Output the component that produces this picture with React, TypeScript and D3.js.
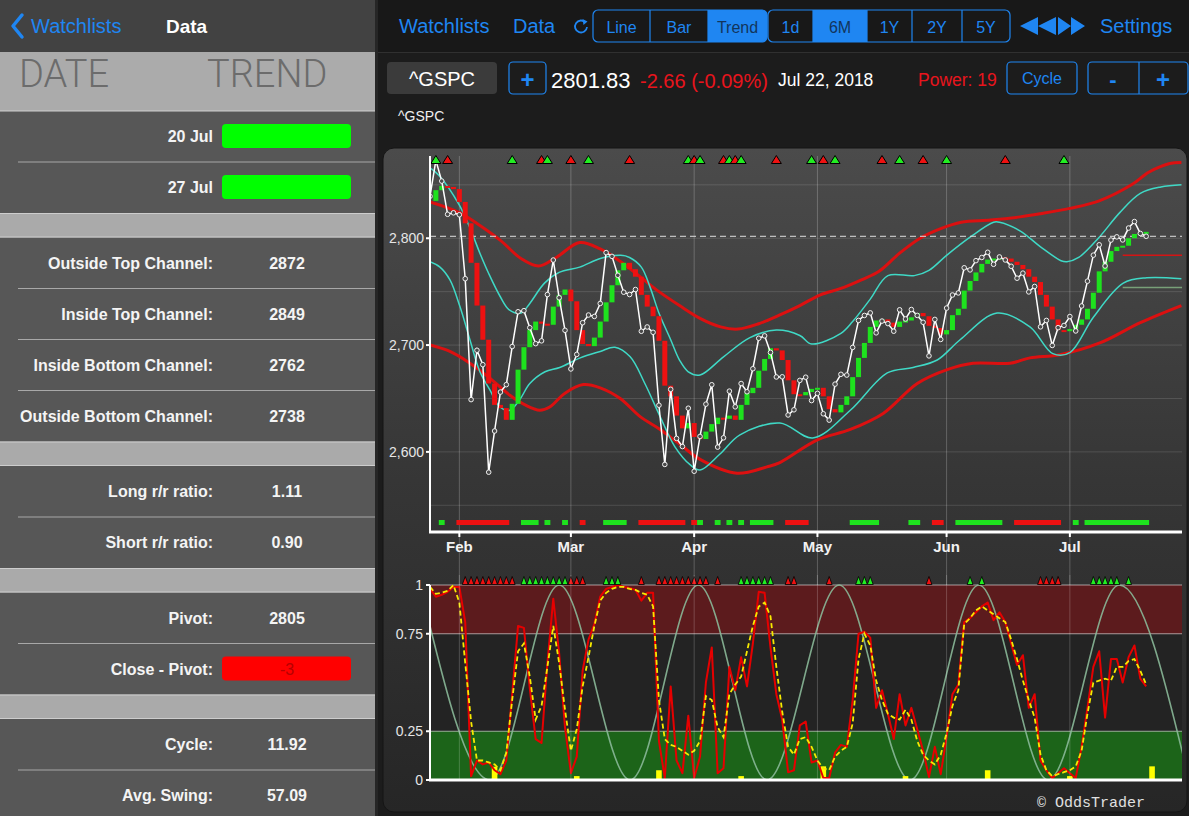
import * as d3 from "d3";

const WIDTH = 1189;
const HEIGHT = 816;
const FONT = "'Liberation Sans', Arial, Helvetica, sans-serif";
const BLUE = "#1f86f2";
const RED = "#e8141c";
const GREEN = "#1ee21e";

// ^GSPC daily closes, 25 Jan – 20 Jul 2018 (one per trading day)
const CLOSES = [
  2839.25, 2872.87, 2853.53, 2822.43, 2823.81, 2821.98, 2762.13, 2648.94, 2695.14, 2681.66,
  2581.0, 2619.55, 2656.0, 2662.94, 2698.63, 2731.2, 2732.22, 2716.26, 2701.33, 2703.96,
  2747.3, 2779.6, 2744.28, 2713.83, 2677.67, 2691.25, 2720.94, 2728.12, 2726.8, 2738.97,
  2786.57, 2783.02, 2765.31, 2749.48, 2747.33, 2752.01, 2712.92, 2716.94, 2711.93, 2643.69,
  2588.26, 2658.55, 2612.62, 2605.0, 2640.87, 2581.88, 2614.45, 2644.69, 2662.84, 2604.47,
  2613.16, 2656.87, 2642.19, 2663.99, 2656.3, 2677.84, 2706.39, 2708.64, 2693.13, 2670.14,
  2670.29, 2634.56, 2639.4, 2666.94, 2669.91, 2648.05, 2654.8, 2635.67, 2629.73, 2663.42,
  2672.63, 2671.92, 2697.79, 2723.07, 2727.72, 2730.13, 2711.45, 2722.46, 2720.13, 2712.97,
  2733.01, 2724.44, 2733.29, 2727.76, 2721.33, 2689.86, 2724.01, 2705.27, 2734.62, 2746.87,
  2748.8, 2772.35, 2770.37, 2779.03, 2782.0, 2786.85, 2775.63, 2782.49, 2779.66, 2773.75,
  2762.59, 2767.32, 2749.76, 2754.88, 2717.07, 2723.06, 2699.63, 2716.31, 2718.37, 2726.71,
  2713.22, 2736.61, 2759.82, 2784.17, 2793.84, 2774.02, 2798.29, 2801.31, 2798.43, 2809.55,
  2815.62, 2804.49, 2801.83,
];

const TREND = [
  2835, 2845, 2849, 2848, 2846, 2834, 2814, 2777, 2737, 2705,
  2664, 2644, 2641, 2630, 2645, 2677, 2698, 2714, 2722, 2720,
  2719, 2736, 2747, 2752, 2741, 2714, 2701, 2699, 2707, 2722,
  2740, 2756, 2770, 2777, 2771, 2764, 2747, 2736, 2727, 2704,
  2662, 2652, 2634, 2622, 2627, 2614, 2612, 2619, 2626, 2632,
  2631, 2634, 2630, 2644, 2655, 2660, 2676, 2687, 2697, 2695,
  2686, 2667, 2654, 2653, 2656, 2659, 2660, 2652, 2640, 2637,
  2644, 2652, 2670, 2688, 2702, 2717, 2723, 2724, 2721, 2717,
  2722, 2723, 2726, 2730, 2727, 2718, 2716, 2710, 2714, 2728,
  2734, 2751, 2760, 2768, 2776, 2780, 2781, 2782, 2781, 2778,
  2775, 2771, 2764, 2759, 2747, 2736, 2724, 2714, 2713, 2715,
  2719, 2724, 2734, 2749, 2769, 2778, 2788, 2792, 2793, 2800,
  2804, 2805, 2806,
];

const MONTH_LABELS = ["Feb", "Mar", "Apr", "May", "Jun", "Jul"];
const MONTH_START = [5, 24, 45, 66, 88, 109];
const PRICE_TICKS = [2600, 2700, 2800];
const PRICE_GRID = [2550, 2600, 2650, 2700, 2750, 2800, 2850];

// channel curves as [day index, level]
const OUTER_TOP: [number, number][] = [
  [0, 2834], [5, 2824], [8.5, 2812], [12, 2798], [15.5, 2781], [18.5, 2774], [21.5, 2782], [25.5, 2796],
  [29, 2790], [32.5, 2778], [36, 2763], [39, 2750], [42.5, 2737], [46, 2725], [49.5, 2717], [52.5, 2715],
  [56, 2720], [59.5, 2728], [63, 2737], [66.5, 2747], [70, 2753], [73.5, 2761], [76.5, 2769], [80, 2786],
  [83.5, 2800], [87, 2809], [90.5, 2815], [95.5, 2817], [100.5, 2820], [104, 2823], [109, 2828], [114, 2835],
  [119.5, 2850], [122.5, 2862], [126, 2870], [128, 2871],
];
const INNER_TOP: [number, number][] = [
  [0, 2866], [1.5, 2859], [5, 2831], [7, 2807], [8.5, 2786], [10, 2767], [12, 2745], [13.5, 2733],
  [15.5, 2730], [17, 2739], [19.5, 2758], [22, 2768], [25.5, 2773], [29, 2781], [32.5, 2784], [34, 2782],
  [36, 2773], [37.5, 2754], [39, 2730], [41, 2705], [42.5, 2686], [44, 2675], [46, 2672], [50, 2689],
  [54.5, 2707], [59, 2714], [63, 2709], [65, 2701], [70, 2711], [72, 2722], [75, 2743], [78, 2765],
  [82.5, 2765], [85, 2770], [88, 2784], [92, 2801], [96, 2815], [97, 2815], [100.5, 2807], [104, 2792],
  [107.5, 2779], [108.5, 2778], [110.5, 2782], [114, 2801], [117.5, 2824], [121, 2842], [124.5, 2848], [128, 2850],
];
const INNER_BOTTOM: [number, number][] = [
  [0, 2778], [1.7, 2773], [3.4, 2761], [5.1, 2736], [6.8, 2705], [8.5, 2675], [10.2, 2658], [11.9, 2642],
  [13.6, 2639], [15.3, 2649], [17, 2664], [19.6, 2675], [22.1, 2679], [25.6, 2688], [29, 2694], [31.5, 2698],
  [34.1, 2689], [36.6, 2664], [39.2, 2633], [41.7, 2605], [44.3, 2588], [46, 2583], [49.4, 2598], [52.8, 2616],
  [59.6, 2627], [65.2, 2613], [71.6, 2639], [77.9, 2674], [82.3, 2679], [86.4, 2686], [90.3, 2705], [96.6, 2730],
  [102.2, 2717], [106.1, 2692], [109, 2693], [113, 2726], [118.1, 2758], [122.1, 2763], [128, 2762],
];
const OUTER_BOTTOM: [number, number][] = [
  [0, 2700], [3.4, 2694], [6.8, 2683], [10.2, 2669], [13.6, 2653], [16.2, 2644], [18.7, 2639], [20.4, 2642],
  [23, 2655], [26.1, 2663], [29, 2660], [32.4, 2650], [35.8, 2633], [39.2, 2621], [42.6, 2607], [46, 2593],
  [52.3, 2580], [57.4, 2586], [59.6, 2590], [65.9, 2611], [71.6, 2621], [77.2, 2636], [83, 2664], [88.1, 2677],
  [92.5, 2683], [98.8, 2683], [102.2, 2688], [107.3, 2691], [114.1, 2702], [121, 2721], [128, 2737],
];

// triangles along the top of the price pane
const PRICE_SIGNALS: [number, string][] = [
  [1, "g"], [3, "r"], [14, "g"], [19, "r"], [20, "g"], [24, "r"], [27, "g"], [34, "r"], [44, "g"], [45, "r"],
  [46, "g"], [50, "r"], [51, "g"], [52, "r"], [53, "g"], [59, "r"], [65, "g"], [67, "r"], [69, "g"], [77, "r"],
  [80, "g"], [84, "r"], [88, "g"], [98, "r"], [108, "g"],
];

// state strip along the bottom of the price pane: [from, to, colour]
const STATE_RUNS: [number, number, string][] = [
  [2, 2, "g"], [5, 13, "r"], [16, 18, "g"], [20, 20, "g"], [23, 23, "g"], [26, 26, "r"], [30, 33, "g"],
  [36, 43, "r"], [45, 45, "r"], [46, 46, "g"], [49, 49, "g"], [51, 51, "g"], [53, 53, "g"], [55, 58, "g"],
  [61, 64, "r"], [72, 76, "g"], [82, 83, "g"], [86, 87, "r"], [90, 97, "g"], [100, 107, "r"], [110, 110, "g"],
  [112, 122, "g"],
];

const TARGET_START = 118;
const TARGET_LEVELS: [number, string][] = [[2784, "#d41414"], [2754, "#78a078"]];

// oscillator
const STOCH_RAW = [
  0.98, 0.94, 0.95, 0.965, 0.99, 0.99, 0.81, 0.02, 0.1, 0.08,
  0.09, 0.05, 0.03, 0.1, 0.44, 0.79, 0.78, 0.47, 0.21, 0.19,
  0.6, 0.93, 0.65, 0.27, 0.035, 0.12, 0.56, 0.72, 0.8, 0.94,
  0.98, 0.99, 1.0, 0.99, 0.985, 0.975, 0.92, 0.96, 0.96, 0.2,
  0.01, 0.48, 0.1, 0.035, 0.33, 0.01, 0.12, 0.5, 0.68, 0.035,
  0.06, 0.58, 0.46, 0.63, 0.48, 0.7, 0.965, 0.96, 0.68, 0.44,
  0.31, 0.04, 0.05, 0.28, 0.3, 0.09, 0.1, 0.01, 0.01, 0.14,
  0.18, 0.17, 0.41, 0.75, 0.76, 0.73, 0.37, 0.46, 0.34, 0.21,
  0.44, 0.28, 0.37, 0.26, 0.15, 0.015, 0.17, 0.03, 0.22, 0.44,
  0.49, 0.81, 0.83, 0.86, 0.89, 0.91, 0.82, 0.86, 0.81, 0.7,
  0.59, 0.64, 0.37, 0.44, 0.1, 0.05, 0.01, 0.035, 0.06, 0.035,
  0.01, 0.17, 0.37, 0.58, 0.66, 0.32, 0.62, 0.62, 0.5, 0.63,
  0.69, 0.52, 0.48,
];
const STOCH_SMOOTH = [
  0.99, 0.955, 0.96, 0.97, 1.0, 0.91, 0.6, 0.3, 0.1, 0.1,
  0.09, 0.08, 0.05, 0.14, 0.41, 0.66, 0.7, 0.53, 0.31, 0.38,
  0.58, 0.79, 0.6, 0.36, 0.15, 0.26, 0.48, 0.63, 0.79, 0.92,
  0.96, 0.98, 0.99, 0.99, 0.98, 0.975, 0.96, 0.95, 0.89, 0.41,
  0.21, 0.18, 0.17, 0.15, 0.13, 0.15, 0.2, 0.43, 0.41, 0.27,
  0.22, 0.44, 0.49, 0.53, 0.66, 0.79, 0.89, 0.91, 0.84, 0.58,
  0.35, 0.17, 0.13, 0.21, 0.22, 0.17, 0.1, 0.06, 0.05, 0.12,
  0.15, 0.17, 0.29, 0.62, 0.75, 0.69, 0.51, 0.41, 0.34, 0.32,
  0.31, 0.36, 0.31, 0.2, 0.13, 0.1, 0.08, 0.13, 0.24, 0.38,
  0.46, 0.8, 0.83, 0.87, 0.89, 0.87, 0.85, 0.83, 0.81, 0.72,
  0.62, 0.51, 0.41, 0.32, 0.13, 0.05, 0.02, 0.03, 0.04, 0.05,
  0.07, 0.15, 0.34, 0.5, 0.51, 0.52, 0.51, 0.58, 0.58, 0.61,
  0.62, 0.56, 0.49,
];
// peaks and troughs of the dominant cycle wave
const CYCLE_EXTREMA: [number, number][] = [
  [-1.7, 1], [10.2, 0], [22, 1], [34.1, 0], [45.7, 1], [57.4, 0], [69.7, 1], [81.8, 0], [93.5, 1], [105.3, 0],
  [117.4, 1], [129.3, 0],
];
const OSC_BARS: [number, number][] = [
  [11, 0.068], [25, 0.02], [39, 0.05], [53, 0.02], [67, 0.07], [81, 0.02], [95, 0.05], [109, 0.02], [123, 0.07],
];
const OSC_SIGNAL_RUNS: [number, number, string][] = [
  [6, 14, "r"], [16, 23, "g"], [24, 26, "r"], [30, 32, "g"], [36, 36, "r"], [39, 47, "r"], [49, 49, "r"],
  [53, 58, "g"], [61, 62, "r"], [68, 68, "r"], [73, 75, "g"], [85, 85, "r"], [92, 92, "g"], [94, 94, "g"],
  [104, 107, "r"], [113, 117, "g"], [119, 119, "g"],
];
const OSC_TICKS = [0, 0.25, 0.75, 1];

// left table
const TREND_ROWS = [
  { date: "20 Jul", up: true },
  { date: "27 Jul", up: true },
];
const STAT_GROUPS: [string, string][][] = [
  [["Outside Top Channel:", "2872"], ["Inside Top Channel:", "2849"], ["Inside Bottom Channel:", "2762"], ["Outside Bottom Channel:", "2738"]],
  [["Long r/r ratio:", "1.11"], ["Short r/r ratio:", "0.90"]],
  [["Pivot:", "2805"], ["Close - Pivot:", "-3"]],
  [["Cycle:", "11.92"], ["Avg. Swing:", "57.09"]],
];

const x = d3.scaleLinear().domain([0, 128]).range([430, 1181.4]);
const py = d3.scaleLinear().domain([2525, 2877]).range([532, 156]);
const oy = d3.scaleLinear().domain([0, 1]).range([780, 585]);
const STEP = x(1) - x(0);

function triangle(cx: number, cy: number, w: number, h: number) {
  return `M${cx - w / 2},${cy + h / 2}L${cx},${cy - h / 2}L${cx + w / 2},${cy + h / 2}Z`;
}

const ROW_H = 51;
const BAND_H = 24.5;

function LeftPanel() {
  let top = 111 + TREND_ROWS.length * ROW_H;
  const groups = STAT_GROUPS.map((rows) => {
    const bandTop = top;
    const start = top + BAND_H;
    top = start + rows.length * ROW_H;
    return { rows, bandTop, start };
  });
  return (
    <g>
      <rect x="0" y="0" width="375" height={HEIGHT} fill="#575757" />
      <rect x="0" y="0" width="375" height="52" fill="#424242" />
      <path d="M22,15 L13,26 L22,37" fill="none" stroke={BLUE} strokeWidth="3.5" strokeLinecap="round" strokeLinejoin="round" />
      <text x="31" y="33" fill={BLUE} fontSize="20">Watchlists</text>
      <text x="166" y="33" fill="#fff" fontSize="19" fontWeight="700">Data</text>
      <rect x="0" y="52" width="375" height="59" fill="#ababab" />
      <text x="19" y="87" fill="#6c6c6c" fontSize="38" fontFamily="Roboto, sans-serif" fontWeight="300">DATE</text>
      <text x="207" y="87" fill="#6c6c6c" fontSize="38" fontFamily="Roboto, sans-serif" fontWeight="300">TREND</text>
      <line x1="0" x2="375" y1="111" y2="111" stroke="#cfcfcf" />
      {TREND_ROWS.map((row, i) => {
        const rowTop = 111 + i * ROW_H;
        return (
          <g key={row.date}>
            {i > 0 && <line x1="18" x2="375" y1={rowTop} y2={rowTop} stroke="#a8a8a8" />}
            <text x="213" y={rowTop + 25.5} fill="#f4f4f4" fontSize="16" fontWeight="700" textAnchor="end" dominantBaseline="central">
              {row.date}
            </text>
            <rect x="222" y={rowTop + 13} width="129" height="24" rx="4" fill={row.up ? "#00ff00" : "#ff0000"} />
          </g>
        );
      })}
      {groups.map((group, gi) => (
        <g key={gi}>
          <rect x="0" y={group.bandTop} width="375" height={BAND_H} fill="#aaaaaa" />
          <line x1="0" x2="375" y1={group.bandTop + 0.5} y2={group.bandTop + 0.5} stroke="#cdcdcd" />
          <line x1="0" x2="375" y1={group.start - 0.5} y2={group.start - 0.5} stroke="#cdcdcd" />
          {group.rows.map(([label, value], ri) => {
            const rowTop = group.start + ri * ROW_H;
            const boxed = label.startsWith("Close");
            return (
              <g key={label}>
                {ri > 0 && <line x1="18" x2="375" y1={rowTop} y2={rowTop} stroke="#a8a8a8" />}
                <text x="213" y={rowTop + 25.5} fill="#f4f4f4" fontSize="16" fontWeight="700" textAnchor="end" dominantBaseline="central">
                  {label}
                </text>
                {boxed && <rect x="222" y={rowTop + 13} width="129" height="24" rx="4" fill="#ff0000" />}
                <text
                  x="287"
                  y={rowTop + 25.5}
                  fill={boxed ? "#b80000" : "#f4f4f4"}
                  fontSize="16"
                  fontWeight={boxed ? "400" : "700"}
                  textAnchor="middle"
                  dominantBaseline="central"
                >
                  {value}
                </text>
              </g>
            );
          })}
        </g>
      ))}
      <rect x="375" y="0" width="3" height={HEIGHT} fill="#262626" />
    </g>
  );
}

function Segmented({ id, left, widths, labels, selected }: { id: string; left: number; widths: number[]; labels: string[]; selected: number }) {
  const ends = Array.from(d3.cumsum(widths));
  const total = ends[ends.length - 1];
  return (
    <g>
      <clipPath id={id}>
        <rect x={left} y="10" width={total} height="32" rx="5" />
      </clipPath>
      {labels.map((label, i) => {
        const x0 = left + (i ? ends[i - 1] : 0);
        const w = widths[i];
        return (
          <g key={label}>
            {i === selected && <rect x={x0} y="10" width={w} height="32" fill={BLUE} clipPath={`url(#${id})`} />}
            {i > 0 && <line x1={x0} x2={x0} y1="10" y2="42" stroke={BLUE} strokeWidth="1.2" />}
            <text x={x0 + w / 2} y="27" fill={i === selected ? "#12355c" : BLUE} fontSize="16" textAnchor="middle" dominantBaseline="central">
              {label}
            </text>
          </g>
        );
      })}
      <rect x={left} y="10" width={total} height="32" rx="5" fill="none" stroke={BLUE} strokeWidth="1.2" />
    </g>
  );
}

function Toolbar() {
  return (
    <g>
      <rect x="378" y="0" width={WIDTH - 378} height="52" fill="#181818" />
      <line x1="378" x2={WIDTH} y1="52.5" y2="52.5" stroke="#303030" />
      <text x="399" y="33" fill={BLUE} fontSize="20">Watchlists</text>
      <text x="513" y="33" fill={BLUE} fontSize="20">Data</text>
      <path d="M585.5,22.5 A6,6 0 1 0 587,27" fill="none" stroke={BLUE} strokeWidth="1.8" />
      <path d="M582.5,19 L587.5,21.5 L583.5,25 Z" fill={BLUE} />
      <Segmented id="seg-type" left={593} widths={[57, 58, 59]} labels={["Line", "Bar", "Trend"]} selected={2} />
      <Segmented id="seg-range" left={768} widths={[45, 54, 45, 50, 48]} labels={["1d", "6M", "1Y", "2Y", "5Y"]} selected={1} />
      <path d="M1020,26 L1038,17 L1038,35 Z M1038,26 L1056,17 L1056,35 Z" fill={BLUE} />
      <path d="M1058,17 L1071,26 L1058,35 Z M1071,17 L1085,26 L1071,35 Z" fill={BLUE} />
      <text x="1100" y="33" fill={BLUE} fontSize="20">Settings</text>

      <rect x="387" y="62" width="110" height="32" rx="4" fill="#3b3b3b" />
      <text x="442" y="79" fill="#fff" fontSize="20" textAnchor="middle" dominantBaseline="central">^GSPC</text>
      <rect x="509" y="62" width="37" height="32" rx="4" fill="none" stroke={BLUE} strokeWidth="1.2" />
      <text x="527.5" y="79" fill={BLUE} fontSize="24" fontWeight="700" textAnchor="middle" dominantBaseline="central">+</text>
      <text x="551" y="88" fill="#fff" fontSize="22">{CLOSES[CLOSES.length - 1].toFixed(2)}</text>
      <text x="640" y="88" fill={RED} fontSize="20">-2.66 (-0.09%)</text>
      <text x="778" y="86" fill="#fff" fontSize="17.5">Jul 22, 2018</text>
      <text x="918" y="86" fill={RED} fontSize="17.5">Power: 19</text>
      <rect x="1007" y="62" width="70" height="32" rx="4" fill="none" stroke={BLUE} strokeWidth="1.2" />
      <text x="1042" y="78" fill={BLUE} fontSize="16" textAnchor="middle" dominantBaseline="central">Cycle</text>
      <rect x="1088" y="62" width="100" height="32" rx="4" fill="none" stroke={BLUE} strokeWidth="1.2" />
      <line x1="1139" x2="1139" y1="62" y2="94" stroke={BLUE} strokeWidth="1.2" />
      <text x="1113" y="79" fill={BLUE} fontSize="22" fontWeight="700" textAnchor="middle" dominantBaseline="central">-</text>
      <text x="1163" y="79" fill={BLUE} fontSize="24" fontWeight="700" textAnchor="middle" dominantBaseline="central">+</text>
      <text x="398" y="121" fill="#f0f0f0" fontSize="14">^GSPC</text>
    </g>
  );
}

function PriceChart() {
  const curve = d3.line<[number, number]>().x((d) => x(d[0])).y((d) => py(d[1])).curve(d3.curveCatmullRom.alpha(0.5));
  const closeLine = d3.line<number>().x((_, i) => x(i)).y((d) => py(d));
  const last = CLOSES[CLOSES.length - 1];
  return (
    <g>
      <clipPath id="price-clip">
        <rect x="430" y="150" width="752" height="382" />
      </clipPath>
      {PRICE_GRID.map((v) => (
        <line key={v} x1="430" x2="1182" y1={py(v)} y2={py(v)} stroke="#ffffff" strokeOpacity="0.13" />
      ))}
      <g clipPath="url(#price-clip)">
        {[OUTER_TOP, OUTER_BOTTOM].map((c, i) => (
          <path key={`o${i}`} d={curve(c) ?? undefined} fill="none" stroke="#dc1010" strokeWidth="3" />
        ))}
        {[INNER_TOP, INNER_BOTTOM].map((c, i) => (
          <path key={`i${i}`} d={curve(c) ?? undefined} fill="none" stroke="#3fd9c6" strokeWidth="1.5" />
        ))}
        <line x1="430" x2="1182" y1={py(last)} y2={py(last)} stroke="#e0e0e0" strokeWidth="1" strokeDasharray="6 4" />
        {TARGET_LEVELS.map(([v, c]) => (
          <line key={v} x1={x(TARGET_START)} x2="1182" y1={py(v)} y2={py(v)} stroke={c} strokeWidth="1.5" />
        ))}
        {TREND.slice(1).map((v, k) => {
          const prev = TREND[k];
          const y0 = Math.min(py(v), py(prev));
          const h = Math.max(2, Math.abs(py(v) - py(prev)));
          return <rect key={k} x={x(k + 1) - 2.5} y={y0} width="5" height={h} fill={v >= prev ? GREEN : "#ee1111"} />;
        })}
        <path d={closeLine(CLOSES) ?? undefined} fill="none" stroke="#ffffff" strokeWidth="1.5" />
        {CLOSES.map((v, i) => (
          <circle key={i} cx={x(i)} cy={py(v)} r="2.3" fill="#4a4a4a" stroke="#f0f0f0" strokeWidth="1" />
        ))}
      </g>
      {PRICE_SIGNALS.map(([i, c]) => (
        <path key={i} d={triangle(x(i), 159.5, 10, 8)} fill={c === "g" ? "#22ee22" : "#ee1111"} stroke="#000" strokeWidth="1" />
      ))}
      {STATE_RUNS.map(([a, b, c]) => (
        <rect key={a} x={x(a - 0.5)} y="520" width={x(b + 0.5) - x(a - 0.5)} height="5" fill={c === "g" ? GREEN : "#ee1111"} />
      ))}
      <line x1="430" x2="430" y1="156" y2="533" stroke="#fff" strokeWidth="2" />
      <line x1="429" x2="1182" y1="532" y2="532" stroke="#fff" strokeWidth="3" />
      {PRICE_TICKS.map((v) => (
        <g key={v}>
          <line x1="426" x2="430" y1={py(v)} y2={py(v)} stroke="#fff" strokeWidth="2" />
          <text x="424" y={py(v)} fill="#e6e6e6" fontSize="14" textAnchor="end" dominantBaseline="central">
            {d3.format(",")(v)}
          </text>
        </g>
      ))}
      {MONTH_START.map((i, k) => (
        <g key={i}>
          <line x1={x(i)} x2={x(i)} y1="533" y2="537" stroke="#fff" strokeWidth="2" />
          <text x={x(i)} y="546" fill="#f2f2f2" fontSize="15" fontWeight="700" textAnchor="middle" dominantBaseline="central">
            {MONTH_LABELS[k]}
          </text>
        </g>
      ))}
    </g>
  );
}

function Oscillator() {
  const osc = d3.line<number>().x((_, i) => x(i)).y((d) => oy(d));
  const cycle = d3.line<[number, number]>().x((d) => x(d[0])).y((d) => oy(d[1])).curve(d3.curveMonotoneX);
  return (
    <g>
      <clipPath id="osc-clip">
        <rect x="430" y="580" width="752" height="201" />
      </clipPath>
      <rect x="430" y={oy(1)} width="752" height={oy(0) - oy(1)} fill="#232323" />
      <rect x="430" y={oy(1)} width="752" height={oy(0.75) - oy(1)} fill="#5c1b1d" />
      <rect x="430" y={oy(0.25)} width="752" height={oy(0) - oy(0.25)} fill="#1c6419" />
      {OSC_TICKS.filter((t) => t > 0).map((t) => (
        <line key={t} x1="430" x2="1182" y1={oy(t)} y2={oy(t)} stroke="#ffffff" strokeOpacity="0.55" />
      ))}
      <g clipPath="url(#osc-clip)">
        <path d={cycle(CYCLE_EXTREMA) ?? undefined} fill="none" stroke="#8ab898" strokeWidth="1.6" strokeOpacity="0.9" />
        {OSC_BARS.map(([i, v]) => (
          <rect key={i} x={x(i) - 2.8} y={oy(v)} width="5.6" height={oy(0) - oy(v)} fill="#ffff00" />
        ))}
        <path d={osc(STOCH_RAW) ?? undefined} fill="none" stroke="#e60000" strokeWidth="2" strokeLinejoin="round" />
        <path d={osc(STOCH_SMOOTH) ?? undefined} fill="none" stroke="#f7ea00" strokeWidth="1.8" strokeDasharray="5 3" />
      </g>
      {OSC_SIGNAL_RUNS.flatMap(([a, b, c]) =>
        d3.range(a, b + 1).map((i) => (
          <path key={i} d={triangle(x(i), 580.5, STEP, 8)} fill={c === "g" ? "#22ee22" : "#ee1111"} stroke="#000" strokeWidth="0.8" />
        ))
      )}
      <line x1="430" x2="430" y1={oy(1)} y2={oy(0)} stroke="#fff" strokeWidth="2" />
      <line x1="429" x2="1182" y1={oy(0)} y2={oy(0)} stroke="#fff" strokeWidth="3" />
      {OSC_TICKS.map((t) => (
        <g key={t}>
          <line x1="426" x2="430" y1={oy(t)} y2={oy(t)} stroke="#fff" strokeWidth="2" />
          <text x="423" y={oy(t)} fill="#e6e6e6" fontSize="14" textAnchor="end" dominantBaseline="central">
            {String(t)}
          </text>
        </g>
      ))}
    </g>
  );
}

function ChartPanel() {
  return (
    <g>
      <defs>
        <linearGradient id="panel-bg" x1="0" y1="0" x2="0" y2="1">
          <stop offset="0" stopColor="#4b4b4b" />
          <stop offset="0.5" stopColor="#363636" />
          <stop offset="1" stopColor="#262626" />
        </linearGradient>
      </defs>
      <rect x="383" y="148" width="804" height="664" rx="11" fill="url(#panel-bg)" stroke="#151515" strokeWidth="1" />
      {MONTH_START.map((i) => (
        <line key={i} x1={x(i)} x2={x(i)} y1="156" y2="780" stroke="#ffffff" strokeOpacity="0.22" />
      ))}
      <PriceChart />
      <Oscillator />
      {MONTH_START.map((i) => (
        <line key={`v${i}`} x1={x(i)} x2={x(i)} y1="575" y2="780" stroke="#ffffff" strokeOpacity="0.2" />
      ))}
      <text x="1037" y="807" fill="#e0e0e0" fontSize="15" fontFamily="'Liberation Mono', 'DejaVu Sans Mono', monospace">
        © OddsTrader
      </text>
    </g>
  );
}

export default function App() {
  return (
    <svg
      width={WIDTH}
      height={HEIGHT}
      viewBox={`0 0 ${WIDTH} ${HEIGHT}`}
      fontFamily={FONT}
      style={{ position: "absolute", left: 0, top: 0, display: "block" }}
    >
      <rect x="0" y="0" width={WIDTH} height={HEIGHT} fill="#1c1c1c" />
      <LeftPanel />
      <Toolbar />
      <ChartPanel />
    </svg>
  );
}
